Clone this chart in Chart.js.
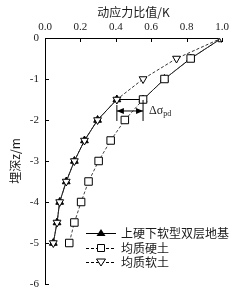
<!DOCTYPE html>
<html lang="zh">
<head>
  <meta charset="UTF-8" />
  <title>动应力比值随埋深变化</title>
  <style>
    body { margin: 0; background: #fff; }
    #wrap { width: 250px; height: 300px; }
  </style>
  <script src="https://cdn.jsdelivr.net/npm/chart.js"></script>
</head>
<body>
  <div id="wrap"><canvas id="kChart" width="250" height="300"></canvas></div>

  <script>
    // 埋深 (m) 与各工况的动应力比值 K
    const depth = [0, -0.5, -1, -1.5, -2, -2.5, -3, -3.5, -4, -4.5, -5];
    const hardK = [1.0, 0.823, 0.675, 0.554, 0.451, 0.371, 0.303, 0.246, 0.204, 0.166, 0.137];
    const softK = [1.0, 0.743, 0.554, 0.406, 0.297, 0.223, 0.166, 0.120, 0.083, 0.068, 0.047];
    // 双层地基：上部同硬土，-1.5 m 处跳到软土
    const layerDepth = [0, -0.5, -1, -1.5, -1.5, -2, -2.5, -3, -3.5, -4, -4.5, -5];
    const layerK = [1.0, 0.823, 0.675, 0.554, 0.406, 0.297, 0.223, 0.166, 0.120, 0.083, 0.068, 0.047];
    const seriesNames = ['上硬下软型双层地基', '均质硬土', '均质软土'];
    const xTicks = [0, 0.2, 0.4, 0.6, 0.8, 1.0];
    const yTicks = [0, -1, -2, -3, -4, -5, -6];

    const pts = (xs, ys) => xs.map((v, i) => ({ x: v, y: ys[i] }));
    const ink = '#1a1a1a';
    const serif = 'Liberation Serif, DejaVu Serif, serif';
    const cjk = '"Noto Sans CJK SC", sans-serif';

    // 内向刻度、Δσpd 标注和图例
    const extras = {
      id: 'extras',
      afterDraw(chart) {
        const c = chart.ctx, x = chart.scales.x, y = chart.scales.y, a = chart.chartArea;
        c.save();
        c.strokeStyle = '#000';
        c.lineWidth = 1;
        xTicks.forEach(v => {
          const px = Math.round(x.getPixelForValue(v)) + 0.5;
          c.beginPath(); c.moveTo(px, a.top); c.lineTo(px, a.top + 4); c.stroke();
        });
        yTicks.forEach(v => {
          const py = Math.round(y.getPixelForValue(v)) + 0.5;
          c.beginPath(); c.moveTo(a.left, py); c.lineTo(a.left + 4, py); c.stroke();
        });

        // Δσpd 双箭头
        const xl = x.getPixelForValue(softK[3]), xr = x.getPixelForValue(hardK[3]);
        const ym = y.getPixelForValue(-1.78);
        c.beginPath();
        c.moveTo(xl, ym - 6); c.lineTo(xl, ym + 10);
        c.moveTo(xr, ym - 11); c.lineTo(xr, ym + 10);
        c.moveTo(xl, ym); c.lineTo(xr, ym);
        c.stroke();
        c.fillStyle = '#000';
        c.beginPath(); c.moveTo(xl, ym); c.lineTo(xl + 7, ym - 3); c.lineTo(xl + 7, ym + 3); c.fill();
        c.beginPath(); c.moveTo(xr, ym); c.lineTo(xr - 7, ym - 3); c.lineTo(xr - 7, ym + 3); c.fill();
        c.fillStyle = ink;
        c.textBaseline = 'middle';
        c.font = '12px ' + serif;
        c.fillText('Δσ', xr + 6, ym);
        const w = c.measureText('Δσ').width;
        c.font = '8px ' + serif;
        c.fillText('pd', xr + 6 + w, ym + 3);

        // 图例
        const rows = [233, 248, 262];
        const lx0 = 86, lx1 = 116, mx = 101;
        rows.forEach((ry, i) => {
          c.strokeStyle = '#000';
          c.lineWidth = 1;
          c.setLineDash(i === 0 ? [] : [3, 2]);
          c.beginPath(); c.moveTo(lx0, ry + 0.5); c.lineTo(lx1, ry + 0.5); c.stroke();
          c.setLineDash([]);
          c.beginPath();
          if (i === 0) {
            c.moveTo(mx, ry - 4); c.lineTo(mx + 4.5, ry + 3); c.lineTo(mx - 4.5, ry + 3); c.closePath();
            c.fillStyle = '#000'; c.fill();
          } else if (i === 1) {
            c.rect(mx - 3.5, ry - 3.5, 7, 7);
            c.fillStyle = '#fff'; c.fill(); c.stroke();
          } else {
            c.moveTo(mx, ry + 4); c.lineTo(mx + 4.5, ry - 3); c.lineTo(mx - 4.5, ry - 3); c.closePath();
            c.fillStyle = '#fff'; c.fill(); c.stroke();
          }
          c.fillStyle = ink;
          c.font = '12px ' + cjk;
          c.textBaseline = 'middle';
          c.fillText(seriesNames[i], 121, ry);
        });
        c.restore();
      }
    };

    new Chart(document.getElementById('kChart'), {
      type: 'scatter',
      data: {
        datasets: [
          {
            label: seriesNames[2],
            data: pts(softK, depth),
            showLine: true,
            borderColor: '#333',
            borderWidth: 1,
            borderDash: [3, 2],
            pointStyle: 'triangle',
            rotation: 180,
            pointRadius: 4.5,
            pointBackgroundColor: '#fff',
            pointBorderColor: '#000',
            pointBorderWidth: 1,
          },
          {
            label: seriesNames[1],
            data: pts(hardK, depth),
            showLine: true,
            borderColor: '#444',
            borderWidth: 1,
            borderDash: [3, 2],
            pointStyle: 'rect',
            pointRadius: 5.3,
            pointBackgroundColor: '#fff',
            pointBorderColor: '#000',
            pointBorderWidth: 1,
          },
          {
            label: seriesNames[0],
            data: pts(layerK, layerDepth),
            showLine: true,
            borderColor: '#000',
            borderWidth: 1,
            pointStyle: 'triangle',
            pointRadius: 4.5,
            pointBackgroundColor: '#000',
            pointBorderColor: '#000',
          },
        ],
      },
      options: {
        responsive: false,
        animation: false,
        layout: { padding: { top: 0, left: 0, right: 28, bottom: 16 } },
        plugins: { legend: { display: false }, tooltip: { enabled: false } },
        scales: {
          x: {
            type: 'linear',
            position: 'top',
            min: 0,
            max: 1,
            afterFit: s => { s.height = 38; },
            afterBuildTicks: s => { s.ticks = xTicks.map(v => ({ value: v })); },
            ticks: { callback: v => v.toFixed(1), color: ink, font: { family: serif, size: 11 }, padding: 4, maxRotation: 0 },
            grid: { drawOnChartArea: false, drawTicks: false },
            border: { color: '#000', width: 1 },
            title: { display: true, text: '动应力比值/K', color: ink, font: { family: cjk, size: 12 }, padding: { top: 5, bottom: 0 } },
          },
          y: {
            type: 'linear',
            min: -6,
            max: 0,
            afterFit: s => { s.width = 45; },
            afterBuildTicks: s => { s.ticks = yTicks.map(v => ({ value: v })); },
            ticks: { callback: v => String(v), color: ink, font: { family: serif, size: 11 }, padding: 6 },
            grid: { drawOnChartArea: false, drawTicks: false },
            border: { color: '#000', width: 1 },
            title: { display: true, text: '埋深z/m', color: ink, font: { family: cjk, size: 12 }, padding: { top: 8, bottom: 0 } },
          },
        },
      },
      plugins: [extras],
    });
  </script>
</body>
</html>
